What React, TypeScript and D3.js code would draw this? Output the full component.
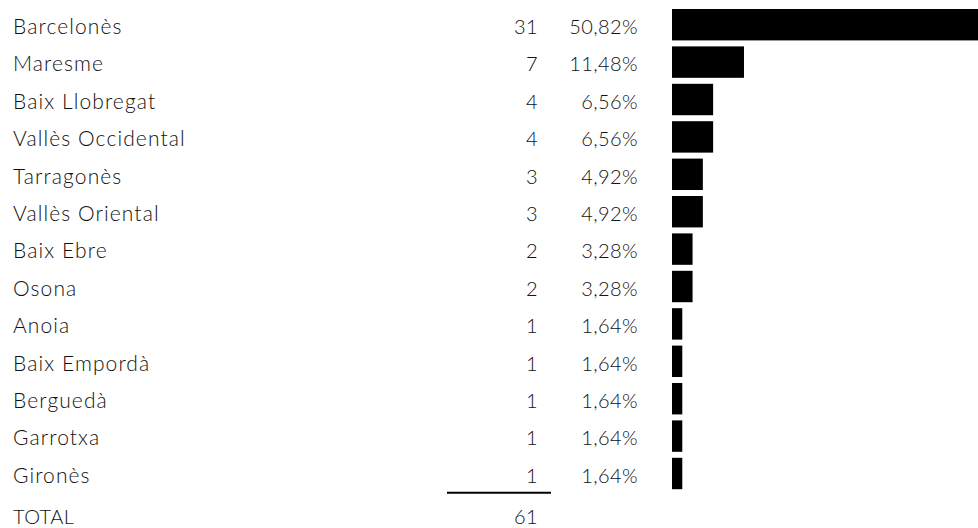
import { useEffect } from 'react';
import * as d3 from 'd3';

const comarques = [
  'Barcelonès', 'Maresme', 'Baix Llobregat', 'Vallès Occidental', 'Tarragonès',
  'Vallès Oriental', 'Baix Ebre', 'Osona', 'Anoia', 'Baix Empordà', 'Berguedà',
  'Garrotxa', 'Gironès',
];
const counts = [31, 7, 4, 4, 3, 3, 2, 2, 1, 1, 1, 1, 1];
const percents = [50.82, 11.48, 6.56, 6.56, 4.92, 4.92, 3.28, 3.28, 1.64, 1.64, 1.64, 1.64, 1.64];
const totalLabel = 'TOTAL';
const total = 61;

const W = 978;
const H = 528;
const FONT = 'Lato, "DejaVu Sans", sans-serif';
const STEP = 37.4;

export default function App() {
  useEffect(() => {
    document.body.style.margin = '0';
  }, []);

  // bands: bar tops at 9 + i * STEP, bar height ~31.5
  const y = d3.scaleBand<string>()
    .domain(comarques)
    .range([9, 9 + STEP * comarques.length - STEP * 0.16])
    .paddingInner(0.16)
    .paddingOuter(0);
  const x = d3.scaleLinear().domain([0, 50]).range([0, 313.5]);
  const fmtPct = (v: number) => d3.format('.2f')(v).replace('.', ',') + '%';

  const labelX = 13;
  const countX = 538;
  const pctX = 638;
  const barX = 672;
  const last = comarques[comarques.length - 1];
  const lastBase = (y(last) ?? 0) + 25;

  return (
    <svg width={W} height={H} style={{ display: 'block', overflow: 'hidden' }}
      fontFamily={FONT} fontSize={20} fontWeight={300} letterSpacing={0.4} fill="#111">
      {comarques.map((c, i) => {
        const top = y(c) ?? 0;
        const base = top + 25;
        return (
          <g key={c}>
            <text x={labelX} y={base} fontSize={21} letterSpacing={1.1}>{c}</text>
            <text x={countX} y={base} textAnchor="end">{counts[i]}</text>
            <text x={pctX} y={base} textAnchor="end">{fmtPct(percents[i])}</text>
            <rect x={barX} y={top} width={x(percents[i])} height={y.bandwidth()} fill="#000" />
          </g>
        );
      })}
      <line x1={447} x2={551} y1={lastBase + 10} y2={lastBase + 10} stroke="#000" strokeWidth={2} />
      <text x={labelX} y={lastBase + 41}>{totalLabel}</text>
      <text x={countX} y={lastBase + 41} textAnchor="end">{total}</text>
    </svg>
  );
}
